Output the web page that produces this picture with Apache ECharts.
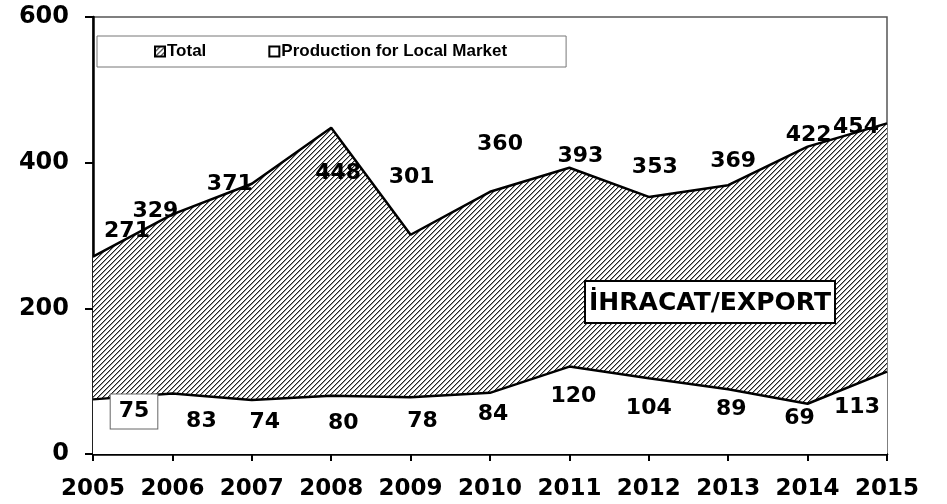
<!DOCTYPE html>
<html>
<head>
<meta charset="utf-8">
<script src="https://cdn.jsdelivr.net/npm/echarts@6/dist/echarts.min.js"></script>
<style>
	html, body { margin: 0; padding: 0; background: #fff; }
	#main { width: 947px; height: 504px; }
</style>
</head>
<body>
<div id="main"></div>
<script>
var years = ['2005', '2006', '2007', '2008', '2009', '2010', '2011', '2012', '2013', '2014', '2015'];
var total = [271, 329, 371, 448, 301, 360, 393, 353, 369, 422, 454];
var local = [75, 83, 74, 80, 78, 84, 120, 104, 89, 69, 113];
var yTicks = [0, 200, 400, 600];

// label nudges, like the hand-placed labels of the original
var totalOffsets = [[34, -25], [-17, -3], [-22, 0], [7, 46], [1, -57], [10, -48], [11, -11], [6, -30], [5, -24], [1, -11], [-31, 4]];
var localOffsets = [[41, 12], [29, 28], [13, 22], [12, 28], [12, 24], [3, 21], [4, 30], [0, 30], [3, 20], [-8, 15], [-30, 36]];

/**
 * 斜线填充
 * **/
function hatch() {
	var c = document.createElement('canvas');
	c.width = 5;
	c.height = 5;
	var ctx = c.getContext('2d');
	ctx.fillStyle = '#fff';
	ctx.fillRect(0, 0, 5, 5);
	for (var i = 0; i < 5; i++) {
		ctx.fillStyle = '#222';
		ctx.fillRect(i, 4 - i, 1, 1);
		ctx.fillStyle = '#999';
		ctx.fillRect((i + 1) % 5, 4 - i, 1, 1);
	}
	return c;
}
var hatchFill = { image: hatch(), repeat: 'repeat' };

function withLabels(values, offsets, boxFirst) {
	return values.map(function(v, i) {
		var item = { value: v, label: { offset: offsets[i] } };
		if (boxFirst && i === 0) {
			item.label.backgroundColor = '#fff';
			item.label.borderColor = '#666';
			item.label.borderWidth = 1;
			item.label.padding = [7, 8, 5, 8];
		}
		return item;
	});
}

var labelFont = {
	show: true,
	position: 'inside',
	fontFamily: 'DejaVu Sans',
	fontWeight: 'bold',
	fontSize: 22,
	color: '#000'
};

var myChart = echarts.init(document.getElementById('main'));
var option = {
	animation: false,
	grid: {
		left: 93,
		right: 60,
		top: 17,
		bottom: 50,
		show: true,
		borderColor: '#555',
		borderWidth: 1.5,
		backgroundColor: 'transparent'
	},
	legend: {
		left: 97,
		top: 36,
		padding: [7, 59, 7, 57],
		itemGap: 62,
		itemWidth: 10,
		itemHeight: 10,
		icon: 'rect',
		backgroundColor: '#fff',
		borderColor: '#777',
		borderWidth: 1,
		borderRadius: 0,
		textStyle: {
			fontFamily: 'Liberation Sans',
			fontWeight: 'bold',
			fontSize: 17,
			color: '#000',
			padding: [0, 0, 0, -3]
		},
		data: [{
			name: 'Total',
			itemStyle: { color: hatchFill, borderColor: '#000', borderWidth: 2 }
		}, {
			name: 'Production for Local Market',
			itemStyle: { color: '#fff', borderColor: '#000', borderWidth: 2 }
		}]
	},
	xAxis: {
		type: 'category',
		boundaryGap: false,
		data: years,
		axisLine: { lineStyle: { color: '#000', width: 2.5 } },
		axisTick: { show: true, alignWithLabel: true, length: 7, interval: 0, lineStyle: { color: '#000', width: 2 } },
		axisLabel: {
			interval: 0,
			hideOverlap: false,
			margin: 24,
			fontFamily: 'DejaVu Sans',
			fontWeight: 'bold',
			fontSize: 23,
			color: '#000'
		},
		splitLine: { show: false }
	},
	yAxis: {
		type: 'value',
		min: yTicks[0],
		max: yTicks[yTicks.length - 1],
		interval: 200,
		axisLine: { show: true, lineStyle: { color: '#000', width: 2.5 } },
		axisTick: { show: true, length: 8, lineStyle: { color: '#000', width: 2 } },
		axisLabel: {
			margin: 24,
			fontFamily: 'DejaVu Sans',
			fontWeight: 'bold',
			fontSize: 24,
			color: '#000'
		},
		splitLine: { show: false }
	},
	series: [{
		name: 'Total',
		type: 'line',
		showSymbol: true,
		symbol: 'circle',
		symbolSize: 0.1,
		lineStyle: { color: '#000', width: 2.5 },
		itemStyle: { color: '#000' },
		areaStyle: { color: hatchFill, opacity: 1 },
		label: labelFont,
		data: withLabels(total, totalOffsets, false),
		z: 2
	}, {
		name: 'Production for Local Market',
		type: 'line',
		showSymbol: true,
		symbol: 'circle',
		symbolSize: 0.1,
		lineStyle: { color: '#000', width: 2.5 },
		itemStyle: { color: '#fff' },
		areaStyle: { color: '#fff', opacity: 1 },
		label: labelFont,
		data: withLabels(local, localOffsets, true),
		z: 3
	}],
	graphic: [{
		type: 'rect',
		z: 100,
		shape: { x: 585, y: 281, width: 250, height: 42 },
		style: { fill: '#fff', stroke: '#000', lineWidth: 2 }
	}, {
		type: 'text',
		z: 101,
		x: 710,
		y: 303,
		style: {
			text: 'İHRACAT/EXPORT',
			font: 'bold 25px "DejaVu Sans"',
			fill: '#000',
			align: 'center',
			verticalAlign: 'middle'
		}
	}]
};
myChart.setOption(option);
window.onresize = function() {
	myChart.resize();
};
</script>
</body>
</html>
